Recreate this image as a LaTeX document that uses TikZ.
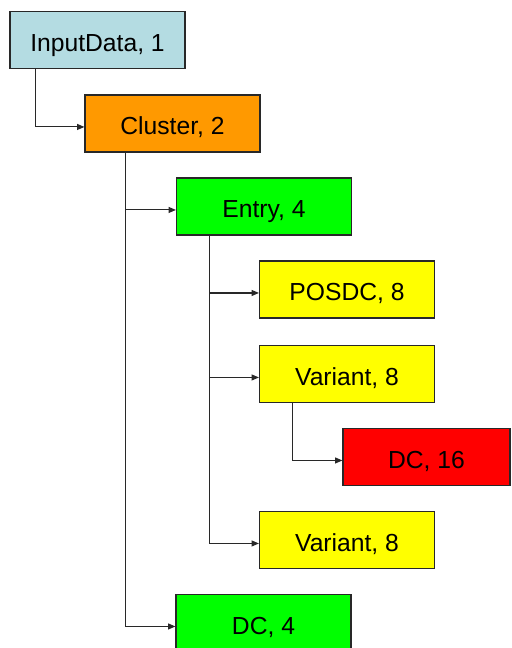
\documentclass[tikz,border=0pt]{standalone}
\usepackage{fontspec}
\setmainfont{Liberation Sans}
\usetikzlibrary{arrows.meta}
\definecolor{cblue}{RGB}{180,220,226}
\definecolor{corange}{RGB}{255,153,0}
\definecolor{cgreen}{RGB}{0,255,0}
\definecolor{cyellow}{RGB}{255,255,0}
\definecolor{cred}{RGB}{255,0,0}
\definecolor{cline}{RGB}{40,40,40}
\tikzset{
  box/.style={draw=cline, line width=0.9pt, minimum width=131.25pt, minimum height=42.75pt,
    inner sep=0pt, text height=17.5pt, text depth=0.5pt,
    font=\fontsize{18.5}{22}\selectfont, text=black},
  conn/.style={draw=cline, line width=0.8pt, -{Triangle[length=5.5pt,width=4.5pt]}}
}
\begin{document}
\begin{tikzpicture}[x=0.75pt,y=-0.75pt]
\useasboundingbox (0,0) rectangle (511,648);
\clip (0,0) rectangle (511,648);
\fill[white] (0,0) rectangle (511,648);
\node[box, fill=cblue] (in) at (97.5,40) {InputData, 1};
\node[box, fill=corange] (cl) at (172.5,123.5) {Cluster, 2};
\node[box, fill=cgreen] (en) at (264,206.5) {Entry, 4};
\node[box, fill=cyellow] (po) at (347,289.5) {POSDC, 8};
\node[box, fill=cyellow] (v1) at (347,374) {Variant, 8};
\node[box, fill=cred, minimum width=125.25pt] (dc16) at (426.5,457) {DC, 16};
\node[box, fill=cyellow] (v2) at (347,540) {Variant, 8};
\node[box, fill=cgreen] (dc4) at (263.5,623) {DC, 4};
\draw[conn] ([xshift=19.3pt]in.south west) |- ([yshift=-2.6pt]cl.west);
\draw[conn] ([xshift=30.75pt]cl.south west) |- ([yshift=-2.6pt]en.west);
\draw[conn] ([xshift=30.75pt]cl.south west) |- ([yshift=-2.6pt]dc4.west);
\draw[conn] ([xshift=25.5pt]en.south west) |- ([yshift=-2.6pt]po.west);
\draw[conn] ([xshift=25.5pt]en.south west) |- ([yshift=-2.6pt]v1.west);
\draw[conn] ([xshift=25.5pt]en.south west) |- ([yshift=-2.6pt]v2.west);
\draw[conn] ([xshift=25.5pt]v1.south west) |- ([yshift=-2.6pt]dc16.west);
\end{tikzpicture}
\end{document}
